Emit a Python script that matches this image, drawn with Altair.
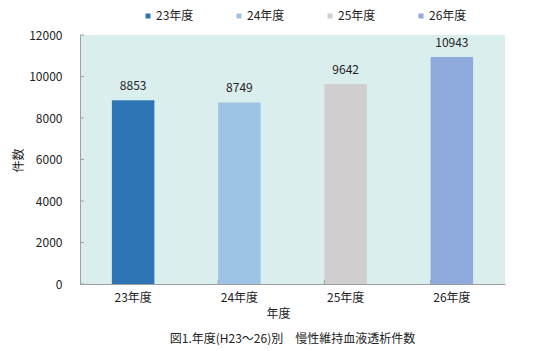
import altair as alt
import pandas as pd

categories = ["23年度", "24年度", "25年度", "26年度"]
values = [8853, 8749, 9642, 10943]
colors = ["#2E75B6", "#9DC3E6", "#D0CECE", "#8FAADC"]
y_ticks = [0, 2000, 4000, 6000, 8000, 10000, 12000]

FONT = "Noto Sans CJK JP"

df = pd.DataFrame({"年度": categories, "件数": values})
tick_df = pd.DataFrame({"v": y_ticks})
xtick_df = pd.DataFrame({"年度": categories[1:]})

xscale = alt.Scale(domain=categories, paddingInner=0.6, paddingOuter=0.3)
yscale = alt.Scale(domain=[0, 12000])

base = alt.Chart(df)

bars = base.mark_bar().encode(
    x=alt.X("年度:N", scale=xscale, sort=categories,
            axis=alt.Axis(title="年度", labelAngle=0, tickSize=0, labelPadding=8,
                          domainColor="#A0A0A0", titleX=198, titleY=29,
                          titleBaseline="middle")),
    y=alt.Y("件数:Q", scale=yscale,
            axis=alt.Axis(title="件数", values=y_ticks, format="d", tickSize=0,
                          labelPadding=18, grid=False, domainColor="#A0A0A0",
                          titleAngle=-90, titleX=-62, titleY=125, titleAlign="center",
                          titleBaseline="middle")),
    color=alt.Color("年度:N", scale=alt.Scale(domain=categories, range=colors),
                    legend=alt.Legend(title=None, orient="none", direction="horizontal",
                                      legendX=62, legendY=-25, symbolType="square",
                                      symbolSize=25, symbolStrokeWidth=0, labelOffset=2,
                                      columnPadding=39, labelFontSize=12,
                                      labelFont=FONT, labelColor="#222222")),
)

labels = base.mark_text(dy=-14, baseline="middle", fontSize=12, font=FONT,
                        color="#222222").encode(
    x=alt.X("年度:N", scale=xscale, sort=categories),
    y=alt.Y("件数:Q", scale=yscale),
    text=alt.Text("件数:Q", format="d"),
)

yticks = alt.Chart(tick_df).mark_rule(color="#A0A0A0").encode(
    y=alt.Y("v:Q", scale=yscale),
    x=alt.value(0),
    x2=alt.value(4),
)

xticks = alt.Chart(xtick_df).mark_rule(color="#A0A0A0").encode(
    x=alt.X("年度:N", scale=xscale, sort=categories, bandPosition=0),
    y=alt.value(249),
    y2=alt.value(245),
)

chart = alt.layer(bars, labels, yticks, xticks).properties(
    width=425,
    height=249,
    autosize=alt.AutoSizeParams(type="none"),
    padding={"left": 80, "top": 35, "right": 46, "bottom": 67},
    title=alt.TitleParams("図1.年度(H23～26)別　慢性維持血液透析件数", orient="bottom",
                          anchor="middle", offset=15, fontSize=12, font=FONT,
                          fontWeight="normal", color="#222222"),
).configure_view(
    fill="#DAEEEE", stroke=None,
).configure_axis(
    labelFont=FONT, titleFont=FONT, labelFontSize=12, titleFontSize=12,
    labelColor="#222222", titleColor="#222222", titleFontWeight="normal",
)

chart.save("out.html", embed_options={"renderer": "svg", "actions": False})
